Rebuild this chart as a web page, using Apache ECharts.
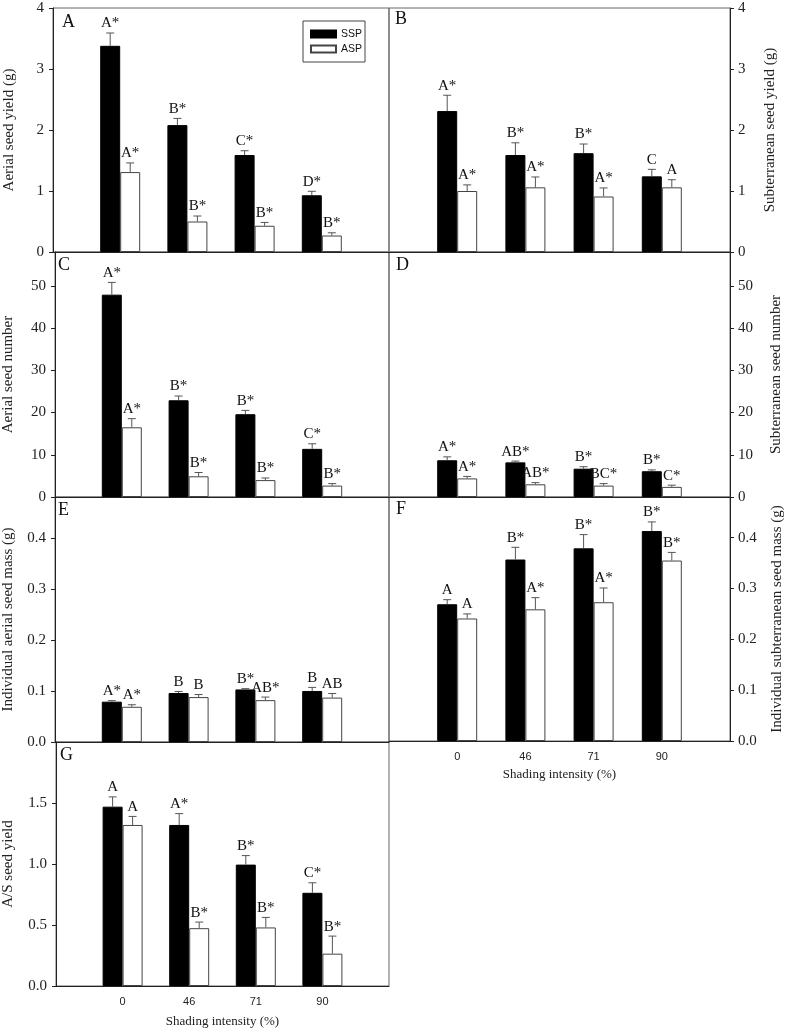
<!DOCTYPE html>
<html><head><meta charset="utf-8">
<script src="https://cdn.jsdelivr.net/npm/echarts@6/dist/echarts.min.js"></script>
<style>html,body{margin:0;padding:0;background:#fff}#c{width:787px;height:1031px}</style>
</head><body><div id="c"></div>
<script>
// ---- data ----
const categories = ['0', '46', '71', '90'];
const xTitle = 'Shading intensity (%)';

// A: Aerial seed yield (g)
const aerialYieldSSP = [3.38, 2.08, 1.59, 0.93];
const aerialYieldSSPErr = [0.21, 0.11, 0.07, 0.065];
const aerialYieldASP = [1.31, 0.50, 0.43, 0.27];
const aerialYieldASPErr = [0.15, 0.09, 0.055, 0.045];
const aerialYieldSSPLbl = ['A*', 'B*', 'C*', 'D*'];
const aerialYieldASPLbl = ['A*', 'B*', 'B*', 'B*'];

// B: Subterranean seed yield (g)
const subYieldSSP = [2.31, 1.59, 1.62, 1.24];
const subYieldSSPErr = [0.26, 0.20, 0.15, 0.115];
const subYieldASP = [1.00, 1.06, 0.91, 1.06];
const subYieldASPErr = [0.10, 0.17, 0.14, 0.125];
const subYieldSSPLbl = ['A*', 'B*', 'B*', 'C'];
const subYieldASPLbl = ['A*', 'A*', 'A*', 'A'];

// C: Aerial seed number
const aerialNumSSP = [47.9, 22.9, 19.6, 11.4];
const aerialNumSSPErr = [2.9, 1.0, 0.9, 1.2];
const aerialNumASP = [16.5, 4.9, 4.0, 2.7];
const aerialNumASPErr = [2.05, 0.9, 0.5, 0.47];
const aerialNumSSPLbl = ['A*', 'B*', 'B*', 'C*'];
const aerialNumASPLbl = ['A*', 'B*', 'B*', 'B*'];

// D: Subterranean seed number
const subNumSSP = [8.7, 8.2, 6.7, 6.1];
const subNumSSPErr = [0.8, 0.3, 0.47, 0.32];
const subNumASP = [4.4, 3.0, 2.7, 2.4];
const subNumASPErr = [0.47, 0.4, 0.47, 0.4];
const subNumSSPLbl = ['A*', 'AB*', 'B*', 'B*'];
const subNumASPLbl = ['A*', 'AB*', 'BC*', 'C*'];

// E: Individual aerial seed mass (g)
const aerialMassSSP = [0.079, 0.096, 0.103, 0.100];
const aerialMassSSPErr = [0.002, 0.003, 0.0015, 0.007];
const aerialMassASP = [0.069, 0.088, 0.082, 0.087];
const aerialMassASPErr = [0.004, 0.005, 0.006, 0.008];
const aerialMassSSPLbl = ['A*', 'B', 'B*', 'B'];
const aerialMassASPLbl = ['A*', 'B', 'AB*', 'AB'];

// F: Individual subterranean seed mass (g)
const subMassSSP = [0.269, 0.357, 0.379, 0.413];
const subMassSSPErr = [0.009, 0.024, 0.027, 0.018];
const subMassASP = [0.241, 0.259, 0.273, 0.355];
const subMassASPErr = [0.009, 0.023, 0.028, 0.016];
const subMassSSPLbl = ['A', 'B*', 'B*', 'B*'];
const subMassASPLbl = ['A', 'A*', 'A*', 'B*'];

// G: A/S seed yield
const asRatioSSP = [1.47, 1.32, 0.995, 0.764];
const asRatioSSPErr = [0.08, 0.093, 0.074, 0.082];
const asRatioASP = [1.32, 0.474, 0.48, 0.265];
const asRatioASPErr = [0.07, 0.05, 0.082, 0.144];
const asRatioSSPLbl = ['A', 'A*', 'B*', 'C*'];
const asRatioASPLbl = ['A', 'B*', 'B*', 'B*'];

// ---- layout / styling ----
const SERIF = '"Liberation Serif", "Times New Roman", serif';
const SANS = '"Liberation Sans", Arial, sans-serif';
const BAR_W = 20;

const panels = [
  {letter:'A', lp:[62,13], ssp:aerialYieldSSP, sspErr:aerialYieldSSPErr, asp:aerialYieldASP, aspErr:aerialYieldASPErr, sspLbl:aerialYieldSSPLbl, aspLbl:aerialYieldASPLbl,
   title:'Aerial seed yield (g)', max:4, interval:1, dec:0, side:'left', nameGap:36, showMax:true, showX:false,
   grid:{left:53, top:8, width:336, height:244}},
  {letter:'B', lp:[395,10], ssp:subYieldSSP, sspErr:subYieldSSPErr, asp:subYieldASP, aspErr:subYieldASPErr, sspLbl:subYieldSSPLbl, aspLbl:subYieldASPLbl,
   title:'Subterranean seed yield (g)', max:4, interval:1, dec:0, side:'right', nameGap:33, showMax:true, showX:false,
   grid:{left:389, top:8, width:341, height:244}},
  {letter:'C', lp:[58,256], ssp:aerialNumSSP, sspErr:aerialNumSSPErr, asp:aerialNumASP, aspErr:aerialNumASPErr, sspLbl:aerialNumSSPLbl, aspLbl:aerialNumASPLbl,
   title:'Aerial seed number', max:58, interval:10, dec:0, side:'left', nameGap:39, showMax:false, showX:false,
   grid:{left:53, top:252, width:336, height:245}},
  {letter:'D', lp:[396,256], ssp:subNumSSP, sspErr:subNumSSPErr, asp:subNumASP, aspErr:subNumASPErr, sspLbl:subNumSSPLbl, aspLbl:subNumASPLbl,
   title:'Subterranean seed number', max:58, interval:10, dec:0, side:'right', nameGap:39, showMax:false, showX:false,
   grid:{left:389, top:252, width:341, height:245}},
  {letter:'E', lp:[58,501], ssp:aerialMassSSP, sspErr:aerialMassSSPErr, asp:aerialMassASP, aspErr:aerialMassASPErr, sspLbl:aerialMassSSPLbl, aspLbl:aerialMassASPLbl,
   title:'Individual aerial seed mass (g)', max:0.48, interval:0.1, dec:1, side:'left', nameGap:39, showMax:false, showX:false,
   grid:{left:53, top:497, width:336, height:245}},
  {letter:'F', lp:[396,500], ssp:subMassSSP, sspErr:subMassSSPErr, asp:subMassASP, aspErr:subMassASPErr, sspLbl:subMassSSPLbl, aspLbl:subMassASPLbl,
   title:'Individual subterranean seed mass (g)', max:0.48, interval:0.1, dec:1, side:'right', nameGap:40, showMax:false, showX:true, xNameGap:27,
   grid:{left:389, top:497, width:341, height:244}},
  {letter:'G', lp:[60,746], ssp:asRatioSSP, sspErr:asRatioSSPErr, asp:asRatioASP, aspErr:asRatioASPErr, sspLbl:asRatioSSPLbl, aspLbl:asRatioASPLbl,
   title:'A/S seed yield', max:2.0, interval:0.5, dec:1, side:'left', nameGap:40, showMax:false, showX:true, xNameGap:29,
   grid:{left:53, top:742, width:336, height:244}}
];

const xCats = [''].concat(categories, ['']);
const pad = arr => ['-'].concat(arr, ['-']);

const option = {
  backgroundColor: '#fff',
  animation: false,
  legend: {
    data: ['SSP', 'ASP'], orient: 'vertical', left: 303, top: 21,
    padding: [7, 3, 7, 7], itemGap: 3, itemWidth: 25, itemHeight: 7, icon: 'rect',
    borderColor: '#444', borderWidth: 1, selectedMode: false,
    textStyle: {fontFamily: SANS, fontSize: 10.5, color: '#111', lineHeight: 12}
  },
  grid: [], xAxis: [], yAxis: [], series: [],
  graphic: []
};

panels.forEach((p, i) => {
  option.grid.push(Object.assign({show: true, borderColor: '#666', borderWidth: 1, backgroundColor: 'transparent'}, p.grid));
  option.xAxis.push({
    type: 'category', gridIndex: i, data: xCats, boundaryGap: false,
    axisLine: {show: true, lineStyle: {color: '#222', width: 1}},
    axisTick: {show: false},
    axisLabel: {show: p.showX, interval: 0, fontFamily: SANS, fontSize: 11, color: '#222', margin: 10},
    splitLine: {show: false},
    name: p.showX ? xTitle : '', nameLocation: 'middle', nameGap: p.xNameGap || 20,
    nameTextStyle: {fontFamily: SERIF, fontSize: 13, color: '#222'}
  });
  option.yAxis.push({
    type: 'value', gridIndex: i, position: p.side, min: 0, max: p.max, interval: p.interval,
    axisLine: {show: true, lineStyle: {color: '#222', width: 1}},
    axisTick: {show: true, inside: false, length: 4, lineStyle: {color: '#222'}},
    axisLabel: {
      showMaxLabel: p.showMax, fontFamily: SERIF, fontSize: 15, color: '#222', margin: p.side === 'left' ? 9 : 8,
      formatter: v => {
        const k = v / p.interval;
        return Math.abs(k - Math.round(k)) < 1e-6 ? v.toFixed(p.dec) : '';
      }
    },
    splitLine: {show: false},
    name: p.title, nameLocation: 'middle', nameRotate: 90, nameGap: p.nameGap,
    nameTextStyle: {fontFamily: SERIF, fontSize: 15, color: '#222'}
  });
  option.series.push({
    type: 'bar', name: 'SSP', xAxisIndex: i, yAxisIndex: i, data: pad(p.ssp),
    barWidth: BAR_W, barGap: '0%', silent: true,
    itemStyle: {color: '#000', borderColor: '#000', borderWidth: 1}
  });
  option.series.push({
    type: 'bar', name: 'ASP', xAxisIndex: i, yAxisIndex: i, data: pad(p.asp),
    barWidth: BAR_W, barGap: '0%', silent: true,
    itemStyle: {color: '#fff', borderColor: '#444', borderWidth: 1}
  });
  const errData = p.ssp.map((v, j) => [j + 1, v, p.sspErr[j], 0])
    .concat(p.asp.map((v, j) => [j + 1, v, p.aspErr[j], 1]));
  option.series.push({
    type: 'custom', xAxisIndex: i, yAxisIndex: i, data: errData, z: 5, clip: false, silent: true,
    encode: {x: 0, y: 1},
    renderItem: (params, api) => {
      const ci = api.value(0), v = api.value(1), e = api.value(2), s = api.value(3);
      const base = api.coord([ci, v]);
      const top = api.coord([ci, v + e]);
      const x = base[0] + (s === 0 ? -BAR_W / 2 : BAR_W / 2);
      const idx = params.dataIndex;
      const lbl = s === 0 ? p.sspLbl[idx] : p.aspLbl[idx - p.ssp.length];
      const stroke = {stroke: '#555', lineWidth: 1};
      return {
        type: 'group',
        children: [
          {type: 'line', shape: {x1: x, y1: base[1], x2: x, y2: top[1]}, style: stroke},
          {type: 'line', shape: {x1: x - 4, y1: top[1], x2: x + 4, y2: top[1]}, style: stroke},
          {type: 'text', x: x, y: top[1] - 2,
           style: {text: lbl, fill: '#111', font: '15px ' + SERIF, textAlign: 'center', textVerticalAlign: 'bottom'}}
        ]
      };
    }
  });
  option.graphic.push({
    type: 'text', left: p.lp[0], top: p.lp[1], silent: true,
    style: {text: p.letter, fill: '#111', font: '18px ' + SERIF}
  });
});

const chart = echarts.init(document.getElementById('c'), null, {renderer: 'canvas'});
chart.setOption(option);
</script>
</body></html>
